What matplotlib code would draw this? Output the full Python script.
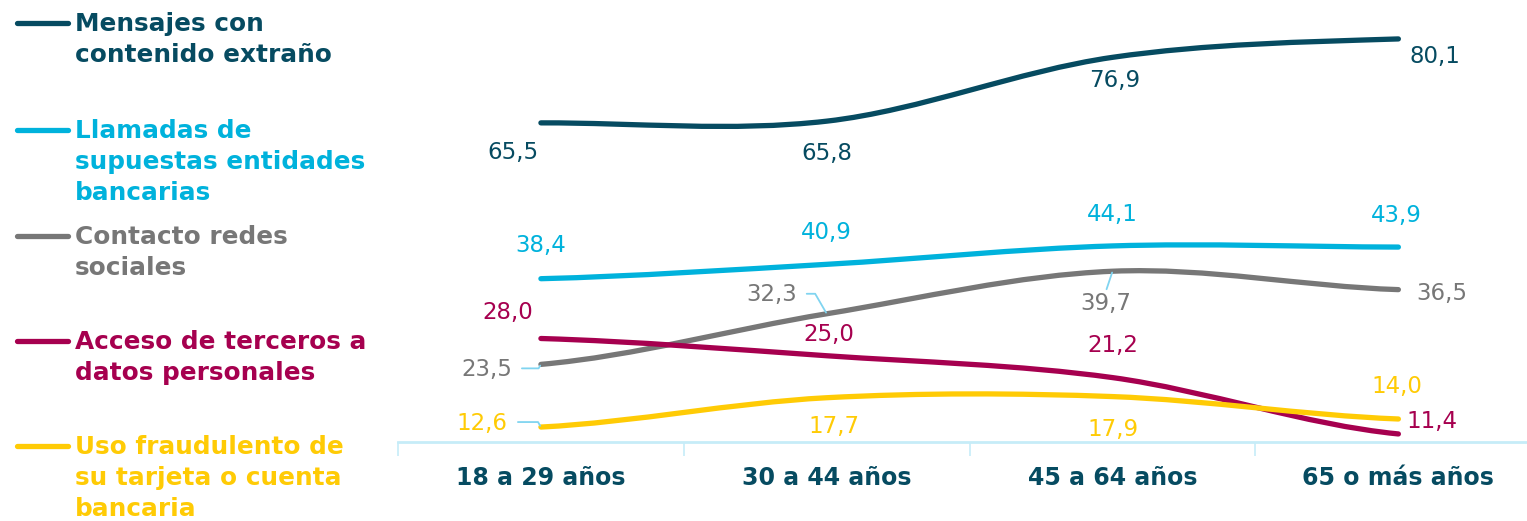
import matplotlib
matplotlib.use("Agg")
import matplotlib.pyplot as plt
from matplotlib.path import Path
from matplotlib.patches import PathPatch
from matplotlib.lines import Line2D
import numpy as np

# data
categories = ["18 a 29 años", "30 a 44 años", "45 a 64 años", "65 o más años"]
series_names = ["Mensajes con\ncontenido extraño",
                "Llamadas de\nsupuestas entidades\nbancarias",
                "Contacto redes\nsociales",
                "Acceso de terceros a\ndatos personales",
                "Uso fraudulento de\nsu tarjeta o cuenta\nbancaria"]
mensajes = [65.5, 65.8, 76.9, 80.1]
llamadas = [38.4, 40.9, 44.1, 43.9]
redes = [23.5, 32.3, 39.7, 36.5]
acceso = [28.0, 25.0, 21.2, 11.4]
tarjeta = [12.6, 17.7, 17.9, 14.0]

colors = ["#064b61", "#00b2dc", "#777777", "#a6004f", "#ffcb05"]
leader_color = "#80d4f0"
axis_color = "#c6ecf8"

# label offsets in pixels (dx, dy, ha, leader)
label_pos = [
    [(-28, -30, "center", None), (0, -32, "center", None), (2, -23, "center", None), (11, -18, "left", None)],
    [(0, 33, "center", None), (0, 32, "center", None), (0, 31, "center", None), (-2, 32, "center", None)],
    [(-29, -5, "right", "side"), (-30, 19, "right", "side"), (-7, -32, "center", "up"), (18, -4, "left", None)],
    [(-33, 26, "center", None), (2, 21, "center", None), (0, 32, "center", None), (8, 12, "left", None)],
    [(-33, 4, "right", "side"), (7, -29, "center", None), (0, -33, "center", None), (-2, 32, "center", None)],
]


def fmt(v):
    return ("%.1f" % v).replace(".", ",")


def spline_path(xs, ys):
    # Catmull-Rom style cubic through the points, as bezier segments
    xs = np.asarray(xs, float)
    ys = np.asarray(ys, float)
    n = len(xs)
    m = np.zeros(n)
    for i in range(n):
        lo = max(i - 1, 0)
        hi = min(i + 1, n - 1)
        m[i] = (ys[hi] - ys[lo]) / 2.0
    verts = [(xs[0], ys[0])]
    codes = [Path.MOVETO]
    for i in range(n - 1):
        dx = xs[i + 1] - xs[i]
        verts += [(xs[i] + dx / 3, ys[i] + m[i] / 3),
                  (xs[i + 1] - dx / 3, ys[i + 1] - m[i + 1] / 3),
                  (xs[i + 1], ys[i + 1])]
        codes += [Path.CURVE4] * 3
    return Path(verts, codes)


fig = plt.figure(figsize=(15.27, 5.21), dpi=100)
ax = fig.add_axes([398 / 1527, 79 / 521, 1129 / 1527, 431.25 / 521])
ax.set_xlim(-0.5, 3.45)
ax.set_ylim(10, 85)

x = np.arange(len(categories))
all_series = [mensajes, llamadas, redes, acceso, tarjeta]

for vals, col, pos in zip(all_series, colors, label_pos):
    patch = PathPatch(spline_path(x, vals), facecolor="none", edgecolor=col,
                      lw=3.8, capstyle="round", joinstyle="round", clip_on=False)
    ax.add_patch(patch)
    for xi, v, (dx, dy, ha, lead) in zip(x, vals, pos):
        ax.annotate(fmt(v), (xi, v), xytext=(dx, dy), textcoords="offset pixels",
                    ha=ha, va="center", fontsize=16.5, color=col, annotation_clip=False)
        if lead == "side":
            # small bent leader from the label to the point
            ax.annotate("", (xi, v), xytext=(dx + 10, dy + 1), textcoords="offset pixels",
                        arrowprops=dict(arrowstyle="-", color=leader_color, lw=1.3,
                                        shrinkA=0, shrinkB=1,
                                        connectionstyle="angle,angleA=180,angleB=%d,rad=0"
                                        % (-60 if dy > 0 else 60)),
                        annotation_clip=False)
        elif lead == "up":
            ax.annotate("", (xi, v), xytext=(dx + 1, dy + 14), textcoords="offset pixels",
                        arrowprops=dict(arrowstyle="-", color=leader_color, lw=1.3,
                                        shrinkA=0, shrinkB=1),
                        annotation_clip=False)

for s in ["top", "right", "left"]:
    ax.spines[s].set_visible(False)
ax.spines["bottom"].set_color(axis_color)
ax.spines["bottom"].set_linewidth(2)
ax.set_yticks([])
ax.set_xticks(x)
ax.set_xticklabels(categories, fontsize=17, fontweight="bold", color=colors[0])
ax.tick_params(axis="x", which="major", length=0, pad=17)
ax.set_xticks(x - 0.5, minor=True)
ax.tick_params(axis="x", which="minor", length=10, width=1.2, color=axis_color)

# legend drawn on the left
leg_y = [23, 130, 236, 341, 446]
for name, col, yy in zip(series_names, colors, leg_y):
    fy = 1 - yy / 521
    fig.add_artist(Line2D([17 / 1527, 68 / 1527], [fy, fy], color=col, lw=3.8,
                          solid_capstyle="round", transform=fig.transFigure))
    fig.text(75 / 1527, fy + 11 / 521, name, color=col, fontsize=17.8,
             fontweight="bold", ha="left", va="top", linespacing=1.36)

fig.savefig("out.png", dpi=100, facecolor="white")
